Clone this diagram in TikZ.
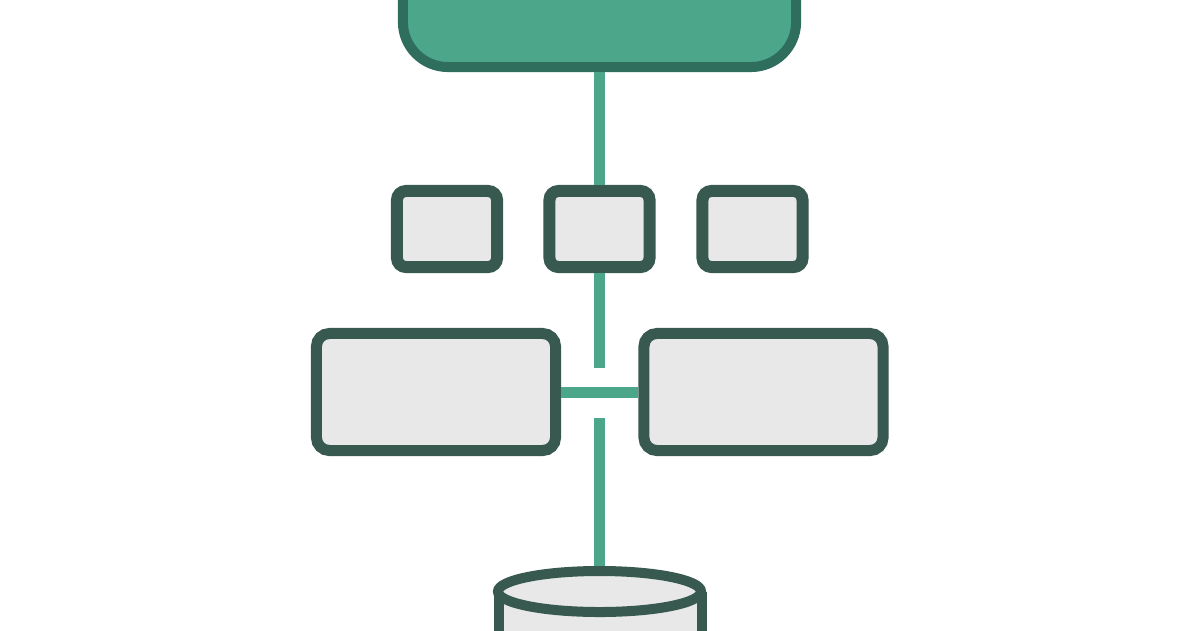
\documentclass[tikz,border=0pt]{standalone}
\usetikzlibrary{positioning}
\usepackage{xcolor}
\definecolor{leaf}{HTML}{4BA68A}
\definecolor{pine}{HTML}{2F6E5C}
\definecolor{slate}{HTML}{37594F}
\definecolor{paper}{HTML}{E8E8E8}

\begin{document}
\begin{tikzpicture}[x=0.01cm,y=-0.01cm,
  every node/.style = {shape=rectangle, inner sep=0pt},
  rootbox/.style = {rounded corners=0.45cm, draw=pine, fill=leaf,
    line width=0.1cm, minimum width=3.93cm, minimum height=1.2cm},
  smallbox/.style = {rounded corners=0.09cm, draw=slate, fill=paper,
    line width=0.12cm, minimum width=1cm, minimum height=0.76cm},
  bigbox/.style = {rounded corners=0.13cm, draw=slate, fill=paper,
    line width=0.11cm, minimum width=2.39cm, minimum height=1.17cm},
  link/.style = {draw=leaf, line width=0.11cm}
  ]
  \useasboundingbox (0,0) rectangle (1200,630);

  \node[rootbox] (root) at (599.5,7) {};

  \node[smallbox] (left) at (447,229) {};
  \node[smallbox] (mid) at (599.5,229) {};
  \node[smallbox] (right) at (752.5,229) {};

  \node[bigbox] (west) at (436,392) {};
  \node[bigbox] (east) at (763.5,392) {};

  \coordinate (gapup) at (599.5,368);
  \coordinate (gapdown) at (599.5,418);
  \coordinate (dbtop) at (599.5,566);

  % database
  \fill[paper] (498.5,591.5) rectangle (701.5,640);
  \draw[slate, line width=0.1cm] (498.5,591.5) -- (498.5,640)
    (701.5,591.5) -- (701.5,640);
  \draw[slate, fill=paper, line width=0.1cm] (599.5,591.5)
    ellipse [x radius=1.015cm, y radius=0.205cm];

  % connectors
  \draw[link] (root.south) -- (mid.north);
  \draw[link] (mid.south) -- (gapup);
  \draw[link] (west.east) -- (east.west);
  \draw[link] (gapdown) -- (dbtop);
\end{tikzpicture}
\end{document}
